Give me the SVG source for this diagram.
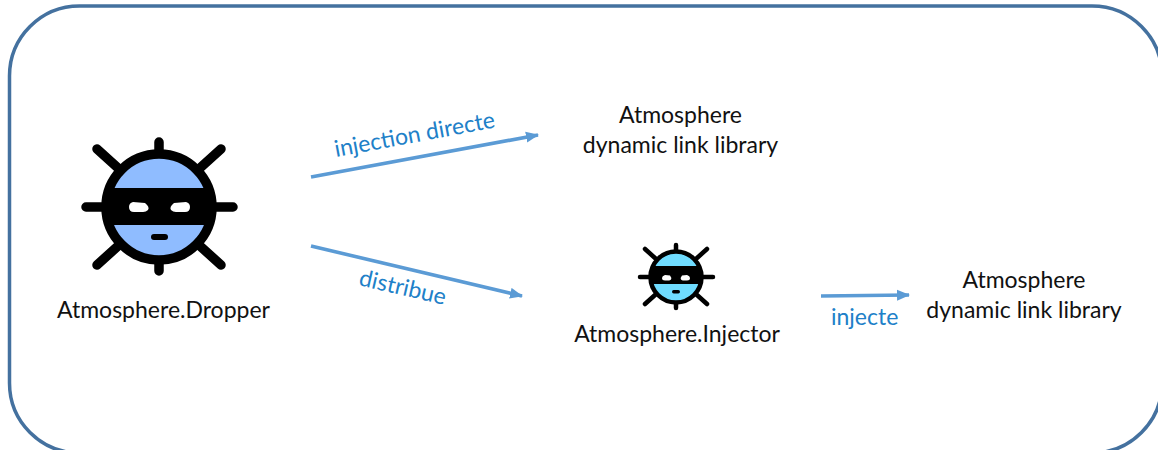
<svg xmlns="http://www.w3.org/2000/svg" width="1158" height="450" viewBox="0 0 1158 450">
<style>
text{font-family:"Lato","Carlito","Open Sans",sans-serif;font-size:23px;fill:#111}
.l{fill:#2080c8}
.c{fill:none;stroke:#5b9bd5;stroke-width:3.6}
.k{stroke:#000;stroke-linecap:round;fill:none}
</style>
<defs>
<marker id="a" markerUnits="userSpaceOnUse" markerWidth="14" markerHeight="12" refX="12" refY="6" orient="auto"><path d="M0 0.500L13 6L0 11.500z" fill="#5b9bd5"/></marker>
</defs>
<rect x="9.500" y="6" width="1152.500" height="447" rx="70" ry="70" fill="#fff" stroke="#44719f" stroke-width="3.500"/>
<g id="connectors">
<path class="c" marker-end="url(#a)" d="M311 177L538 135"/>
<path class="c" marker-end="url(#a)" d="M311 246L522 296"/>
<path class="c" marker-end="url(#a)" d="M821 296L909 295"/>
</g>
<g id="dropper">
<g class="k" stroke-width="9.500"><path d="M159 142V165M159 249V271M86 207H108M210 207H233M97 149L118 168M221 149L200 168M97 265L118 246M221 265L200 246"/></g>
<circle cx="159" cy="207" r="53" fill="#8fbcff" stroke="#000" stroke-width="9.500"/>
<path d="M112 188H206Q214 207 206 225H112Q104 207 112 188Z" fill="#000"/>
<path d="M133 202L145 203Q150 207 148 210Q146 212 143 212H134Q129 212 129 207Q129 203 133 202ZM186 202L174 203Q169 207 171 210Q173 212 176 212H185Q190 212 190 207Q190 203 186 202Z" fill="#fff"/>
<rect x="151" y="234" width="17" height="6" rx="3" fill="#000"/>
<text x="163.500" y="318" text-anchor="middle">Atmosphere.Dropper</text>
</g>
<g id="injector">
<g class="k" stroke-width="4.500"><path d="M676 245V253M676 297V308M640 277H651M701 277H713M645 249L655 258M707 249L697 258M645 304L655 295M707 304L697 295"/></g>
<circle cx="676" cy="277" r="25.500" fill="#6fdcff" stroke="#000" stroke-width="4.500"/>
<path d="M653 266H699Q703 276 699 284H653Q649 276 653 266Z" fill="#000"/>
<path d="M665 275L670 275.500Q672 278 671 279.500Q670 280.500 669 280.500H665Q662 280.500 662 278Q662 276 665 275ZM687 275L682 275.500Q680 278 681 279.500Q682 280.500 683 280.500H687Q690 280.500 690 278Q690 276 687 275Z" fill="#fff"/>
<rect x="672" y="290" width="8" height="3.500" rx="1.700" fill="#000"/>
<text x="677" y="342" text-anchor="middle">Atmosphere.Injector</text>
</g>
<g id="dll1">
<text x="680.500" y="123" text-anchor="middle">Atmosphere</text>
<text x="680.500" y="153" text-anchor="middle">dynamic link library</text>
</g>
<g id="dll2">
<text x="1024" y="288" text-anchor="middle">Atmosphere</text>
<text x="1024" y="318" text-anchor="middle">dynamic link library</text>
</g>
<text class="l" transform="translate(336 157) rotate(-10.500)">injection directe</text>
<text class="l" transform="translate(358 285) rotate(13)">distribue</text>
<text class="l" x="831" y="325">injecte</text>
</svg>
